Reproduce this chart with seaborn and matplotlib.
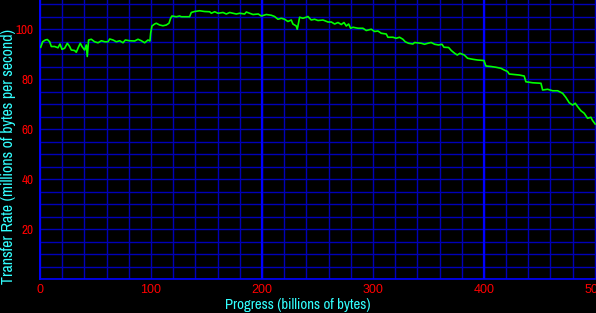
import matplotlib
matplotlib.use("Agg")
import matplotlib.pyplot as plt
from matplotlib.ticker import MultipleLocator, FixedLocator
import seaborn as sns
import pandas as pd

progress = [0.6, 2.4, 4.8, 6.6, 8.7, 10.2, 13.2, 16.2, 18.0, 19.8, 22.2, 24.6, 26.7, 28.2,
            31.2, 32.7, 34.2, 36.3, 37.8, 40.2, 41.7, 42.6, 43.8, 46.2, 49.2, 52.3, 55.3,
            58.3, 61.3, 62.8, 65.8, 68.8, 71.8, 74.8, 76.9, 80.8, 85.3, 88.3, 91.3, 94.3,
            97.3, 99.1, 99.7, 100.9, 103.3, 104.8, 107.8, 110.8, 113.8, 116.2, 117.7, 118.9,
            122.8, 125.8, 127.3, 134.8, 136.3, 139.3, 143.8, 148.3, 152.9, 154.4, 157.4,
            160.4, 164.9, 167.9, 170.9, 173.9, 176.9, 179.9, 184.4, 185.9, 188.9, 191.9,
            196.7, 199.4, 203.9, 208.4, 211.4, 214.4, 217.4, 220.4, 223.4, 226.4, 227.9,
            230.9, 231.8, 233.0, 233.9, 236.9, 239.9, 241.4, 244.4, 247.4, 250.5, 255.0,
            259.5, 262.5, 265.5, 268.5, 271.5, 273.9, 276.0, 278.1, 279.9, 282.0, 286.5,
            291.0, 294.0, 298.5, 301.5, 304.5, 307.5, 312.0, 313.5, 318.0, 321.0, 324.0,
            327.0, 329.1, 332.1, 336.0, 337.5, 343.5, 346.5, 349.5, 352.5, 355.6, 359.2,
            362.2, 364.0, 368.2, 370.6, 373.6, 376.0, 378.4, 382.3, 385.3, 389.8, 394.3,
            400.0, 401.8, 406.3, 410.8, 415.3, 418.3, 421.3, 422.8, 427.3, 431.8, 436.3,
            437.8, 443.8, 451.4, 452.9, 457.4, 461.9, 466.4, 470.9, 473.9, 476.9, 479.9,
            482.3, 484.4, 487.4, 490.4, 493.4, 496.4, 497.9, 500.3]
rate = [92.8, 95.0, 95.7, 95.9, 95.0, 93.1, 93.1, 92.6, 94.1, 92.0, 92.4, 94.4, 93.1, 91.7,
        91.5, 90.8, 92.4, 94.4, 93.1, 91.7, 93.7, 89.1, 95.7, 96.0, 95.0, 94.6, 95.4,
        95.0, 95.0, 96.1, 95.7, 95.0, 95.4, 94.6, 95.7, 95.4, 95.3, 96.0, 95.4, 94.6,
        95.7, 95.3, 98.4, 101.3, 102.1, 102.4, 101.7, 101.4, 101.7, 102.4, 104.4, 105.3,
        105.0, 105.3, 105.0, 105.0, 106.7, 107.1, 107.4, 107.1, 107.0, 106.4, 107.0,
        106.4, 106.7, 106.1, 106.7, 106.4, 106.1, 106.4, 106.1, 106.9, 106.4, 105.9,
        106.1, 105.3, 105.9, 105.6, 105.1, 104.0, 104.4, 104.0, 103.1, 103.7, 102.1,
        101.3, 100.0, 102.6, 104.8, 104.4, 104.8, 105.1, 103.7, 104.0, 103.5, 103.7,
        102.9, 102.9, 102.1, 102.7, 101.9, 102.7, 101.3, 102.1, 100.4, 100.8, 100.4,
        100.4, 99.5, 100.0, 99.1, 99.3, 98.4, 98.1, 96.8, 96.8, 96.4, 96.8,
        96.0, 95.0, 94.4, 94.1, 94.7, 94.4, 94.0, 94.4, 94.7, 94.0, 93.7,
        94.0, 92.8, 92.7, 91.5, 90.4, 89.7, 90.4, 89.7, 88.4, 88.0, 87.7,
        87.5, 85.3, 85.1, 84.8, 84.4, 83.7, 83.1, 82.1, 81.9, 81.7, 81.3,
        79.0, 78.6, 78.4, 75.7, 76.0, 75.4, 75.4, 74.4, 72.7, 70.6, 69.7,
        70.4, 69.1, 67.4, 66.4, 64.4, 64.8, 63.5, 62.1]

x_ticks = [0, 100, 200, 300, 400, 500]
y_ticks = [20, 40, 60, 80, 100]
x_label = "Progress (billions of bytes)"
y_label = "Transfer Rate (millions of bytes per second)"

df = pd.DataFrame({"progress": progress, "rate": rate})

narrow = ["Archivo Narrow", "Asap Condensed", "Liberation Sans Narrow", "DejaVu Sans"]

W, H = 596, 313
fig = plt.figure(figsize=(W / 100, H / 100), dpi=100, facecolor="black")
left, right, top, bottom = 40, 596, 0, 279.3
ax = fig.add_axes([left / W, (H - bottom) / H, (right - left) / W, (bottom - top) / H])
ax.set_facecolor("black")

ax.set_xlim(0, 501)
ax.set_ylim(0, 111.7)

dark = "#0000b8"
bright = "#0000ff"

ax.xaxis.set_major_locator(FixedLocator(x_ticks))
ax.xaxis.set_minor_locator(MultipleLocator(20))
ax.yaxis.set_major_locator(FixedLocator(y_ticks))
ax.yaxis.set_minor_locator(MultipleLocator(5))
ax.grid(which="both", color=dark, linewidth=1.0, zorder=0)
ax.set_axisbelow(True)
for xv in (200, 400):
    ax.axvline(xv, color=bright, linewidth=1.6, zorder=1)

sns.lineplot(data=df, x="progress", y="rate", ax=ax, color="#00ff00",
             linewidth=1.2, zorder=3, legend=False)

ax.tick_params(which="both", length=0)
ax.tick_params(axis="x", colors="#ff0000", pad=3.5)
ax.tick_params(axis="y", colors="#ff0000", pad=4.5)
for lab in ax.get_xticklabels():
    lab.set_fontfamily("Liberation Sans")
    lab.set_fontsize(9)
for lab in ax.get_yticklabels():
    lab.set_fontfamily(narrow)
    lab.set_fontsize(9.5)

for side in ("top", "right"):
    ax.spines[side].set_visible(False)
ax.spines["left"].set_color(bright)
ax.spines["left"].set_linewidth(1.4)
ax.spines["bottom"].set_color(bright)
ax.spines["bottom"].set_linewidth(1.2)

ax.set_xlabel(x_label, color="#33ffff", fontfamily=narrow, fontsize=10.7)
ax.xaxis.set_label_coords((297.5 - left) / (right - left), (bottom - 298) / (bottom - top))
ax.set_ylabel(y_label, color="#33ffff", fontfamily=narrow, fontsize=11.5)
ax.yaxis.set_label_coords((16 - left) / (right - left), (bottom - 156.5) / (bottom - top))

fig.savefig("out.png", dpi=100, facecolor="black")
